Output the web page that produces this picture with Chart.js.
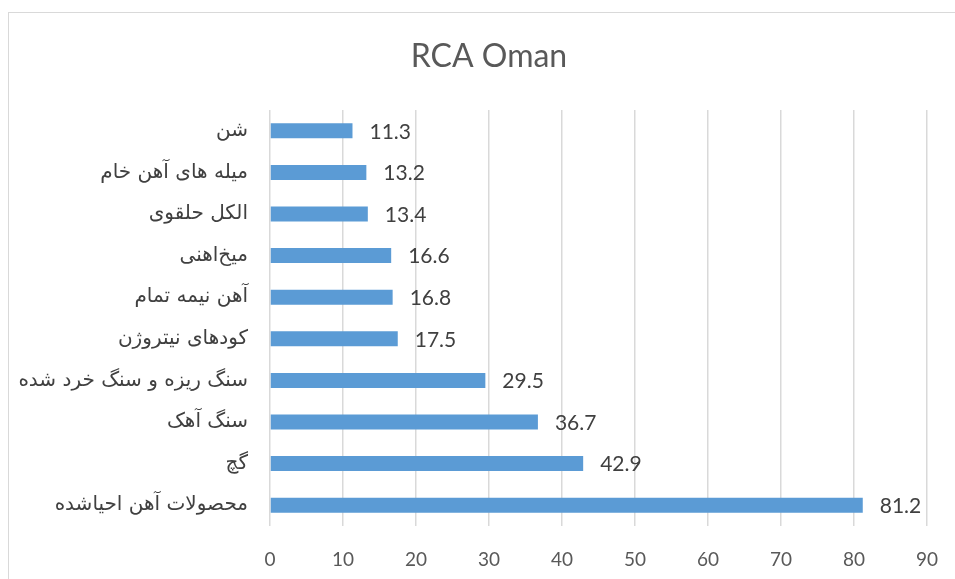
<!DOCTYPE html>
<html>
<head>
<meta charset="utf-8">
<script src="https://cdn.jsdelivr.net/npm/chart.js@4"></script>
<style>
  html, body { margin: 0; padding: 0; background: #fff; overflow: hidden; }
  #wrap { position: relative; width: 955px; height: 579px; overflow: hidden; }
  #frame { position: absolute; left: 8px; top: 12px; width: 980px; height: 600px; border: 1px solid #d9d9d9; box-sizing: border-box; }
  canvas { position: absolute; left: 0; top: 0; }
</style>
</head>
<body>
<div id="wrap">
  <div id="frame"></div>
  <canvas id="grafico" width="978" height="579"></canvas>
</div>
<script>
// Datos (de arriba hacia abajo)
const titulo = "RCA Oman";
const categorias = [
  "شن",
  "میله های آهن خام",
  "الکل حلقوی",
  "میخ‌اهنی",
  "آهن نیمه تمام",
  "کودهای نیتروژن",
  "سنگ ریزه و سنگ خرد شده",
  "سنگ آهک",
  "گچ",
  "محصولات آهن احیاشده"
];
const valores = [11.3, 13.2, 13.4, 16.6, 16.8, 17.5, 29.5, 36.7, 42.9, 81.2];
const ejeMin = 0;
const ejeMax = 90;
const ejePaso = 10;

// Etiquetas de valor al final de cada barra
const etiquetasValor = {
  id: "etiquetasValor",
  afterDatasetsDraw(chart) {
    const ctx = chart.ctx;
    const meta = chart.getDatasetMeta(0);
    ctx.save();
    ctx.font = "21px Lato";
    ctx.fillStyle = "#404040";
    ctx.textAlign = "left";
    ctx.textBaseline = "middle";
    meta.data.forEach((bar, i) => {
      ctx.fillText(valores[i].toFixed(1), bar.x + 17, bar.y + 1);
    });
    ctx.restore();
  }
};

// Título centrado sobre el marco del gráfico
const tituloGrafico = {
  id: "tituloGrafico",
  afterDraw(chart) {
    const ctx = chart.ctx;
    ctx.save();
    ctx.font = "32px Lato";
    ctx.fillStyle = "#595959";
    ctx.textAlign = "center";
    ctx.textBaseline = "middle";
    ctx.fillText(titulo, 489, 57);
    ctx.restore();
  }
};

new Chart(document.getElementById("grafico"), {
  type: "bar",
  data: {
    labels: categorias,
    datasets: [{
      label: "RCA",
      data: valores,
      backgroundColor: "#5b9bd5",
      barPercentage: 0.36,
      categoryPercentage: 1
    }]
  },
  options: {
    indexAxis: "y",
    responsive: false,
    animation: false,
    layout: { padding: { left: 0, right: 51, top: 110, bottom: 0 } },
    plugins: {
      legend: { display: false },
      tooltip: { enabled: false },
      title: { display: false }
    },
    scales: {
      x: {
        min: ejeMin,
        max: ejeMax,
        ticks: { stepSize: ejePaso, color: "#595959", font: { family: "Lato", size: 19 }, padding: 22 },
        grid: { color: "#d9d9d9", lineWidth: 1.5, drawTicks: false },
        border: { display: false },
        afterFit(scale) { scale.height = 53; }
      },
      y: {
        ticks: { color: "#404040", font: { family: "DejaVu Sans", size: 20 }, padding: 22 },
        grid: { display: false, drawTicks: false },
        border: { display: false },
        afterFit(scale) { scale.width = 270; }
      }
    }
  },
  plugins: [etiquetasValor, tituloGrafico]
});
</script>
</body>
</html>
